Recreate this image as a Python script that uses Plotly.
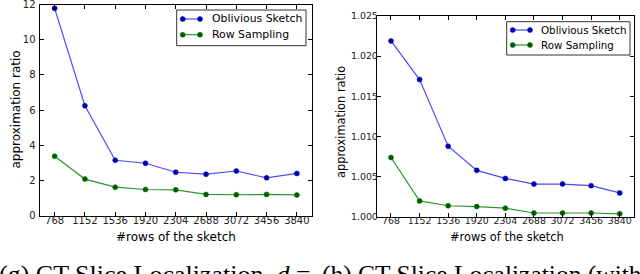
import plotly.graph_objects as go

rows = [768, 1152, 1536, 1920, 2304, 2688, 3072, 3456, 3840]
row_labels = [str(r) for r in rows]

# (g) left panel
g_oblivious = [11.78, 6.25, 3.15, 2.98, 2.47, 2.36, 2.54, 2.15, 2.40]
g_sampling = [3.38, 2.08, 1.62, 1.49, 1.47, 1.21, 1.19, 1.21, 1.18]

# (h) right panel
h_oblivious = [1.0219, 1.0171, 1.0088, 1.0058, 1.0048, 1.0041, 1.0041, 1.0039, 1.0030]
h_sampling = [1.0074, 1.0020, 1.0014, 1.0013, 1.0011, 1.0005, 1.0005, 1.0005, 1.0004]

left_ticks = [0, 2, 4, 6, 8, 10, 12]
right_ticks = [1.000, 1.005, 1.010, 1.015, 1.020, 1.025]
series_names = ["Oblivious Sketch", "Row Sampling"]

W, H = 640, 274
def px(x):
    return x / W
def py(y):
    return 1 - y / H

BLUE_LINE = "#4a4aff"
BLUE_MARK = "#0000b0"
GREEN_LINE = "#2e962e"
GREEN_MARK = "#006000"
LINE_COLORS = [BLUE_LINE, GREEN_LINE]
MARK_COLORS = [BLUE_MARK, GREEN_MARK]

fig = go.Figure()

def add_series(x, y, name, lc, mc, xa, ya):
    fig.add_trace(go.Scatter(
        x=x, y=y, name=name, mode="lines+markers",
        line=dict(color=lc, width=1.2),
        marker=dict(color=mc, size=5, line=dict(color=mc, width=0.5)),
        xaxis=xa, yaxis=ya, showlegend=False,
    ))

add_series(rows, g_oblivious, series_names[0], BLUE_LINE, BLUE_MARK, "x", "y")
add_series(rows, g_sampling, series_names[1], GREEN_LINE, GREEN_MARK, "x", "y")
add_series(rows, h_oblivious, series_names[0], BLUE_LINE, BLUE_MARK, "x2", "y2")
add_series(rows, h_sampling, series_names[1], GREEN_LINE, GREEN_MARK, "x2", "y2")

def axis_style(fs, standoff):
    return dict(
        showline=True, linecolor="black", linewidth=1, mirror="ticks",
        ticks="inside", ticklen=4, tickwidth=1, tickcolor="black",
        showgrid=False, zeroline=False, automargin=False,
        ticklabeloverflow="allow",
        tickfont=dict(family="DejaVu Sans", size=fs, color="#222222"),
        ticklabelstandoff=standoff,
    )

xr = [576, 4032]
fig.update_layout(
    width=W, height=H,
    margin=dict(l=0, r=0, t=0, b=0),
    paper_bgcolor="white", plot_bgcolor="white",
    xaxis=dict(domain=[px(39.5), px(312)], range=xr, tickvals=rows, ticktext=row_labels,
               anchor="y", **axis_style(10, -5)),
    yaxis=dict(domain=[py(215.7), py(4.5)], range=[0, 12], tickvals=left_ticks,
               anchor="x", **axis_style(10, 1)),
    xaxis2=dict(domain=[px(376.7), px(634)], range=xr, tickvals=rows, ticktext=row_labels,
                anchor="y2", **axis_style(9.4, -5)),
    yaxis2=dict(domain=[py(217), py(16)], range=[1.0, 1.025], tickvals=right_ticks,
                tickformat=".3f", anchor="x2", **axis_style(9.4, -4)),
    showlegend=False,
)

shapes = []
annotations = []

def manual_legend(box, text_y, sym_x0, sym_x1, text_x, fs):
    x0, y0, x1, y1 = box
    shapes.append(dict(type="rect", xref="paper", yref="paper",
                       x0=px(x0), x1=px(x1), y0=py(y1), y1=py(y0),
                       line=dict(color="#333333", width=1), fillcolor="white", layer="above"))
    for i, name in enumerate(series_names):
        ty = text_y[i]
        shapes.append(dict(type="line", xref="paper", yref="paper",
                           x0=px(sym_x0), x1=px(sym_x1), y0=py(ty), y1=py(ty),
                           line=dict(color=LINE_COLORS[i], width=1.2), layer="above"))
        for cx in (sym_x0, sym_x1):
            r = 2.5
            shapes.append(dict(type="circle", xref="paper", yref="paper",
                               x0=px(cx - r), x1=px(cx + r), y0=py(ty + r), y1=py(ty - r),
                               line=dict(color=MARK_COLORS[i], width=0.5),
                               fillcolor=MARK_COLORS[i], layer="above"))
        annotations.append(dict(text=name, x=px(text_x), y=py(ty), xanchor="left",
                                yanchor="middle", borderpad=0,
                                font=dict(family="DejaVu Sans", size=fs, color="black")))

manual_legend((176.7, 10, 306, 45.7), (19, 34.7), 182.7, 200, 211, 10.9)
manual_legend((506.7, 21.7, 630, 55), (30, 45), 512.7, 530, 539.5, 10.3)

annotations += [
    dict(text="approximation ratio", x=px(15.5), y=py(110), textangle=-90,
         xanchor="center", yanchor="middle",
         font=dict(family="DejaVu Sans", size=12, color="black")),
    dict(text="approximation ratio", x=px(341), y=py(122), textangle=-90,
         xanchor="center", yanchor="middle",
         font=dict(family="DejaVu Sans", size=11.4, color="black")),
    dict(text="#rows of the sketch", x=px(176), y=py(236.5), xanchor="center",
         yanchor="middle", font=dict(family="DejaVu Sans", size=12, color="black")),
    dict(text="#rows of the sketch", x=px(507), y=py(236.5), xanchor="center",
         yanchor="middle", font=dict(family="DejaVu Sans", size=11.4, color="black")),
    dict(text="(g) CT Slice Localization, <i>d</i> =", x=px(-2), y=py(259),
         xanchor="left", yanchor="top", borderpad=0,
         font=dict(family="Liberation Serif", size=26, color="black")),
    dict(text="(h) CT Slice Localization (with", x=px(321), y=py(259),
         xanchor="left", yanchor="top", borderpad=0,
         font=dict(family="Liberation Serif", size=25.5, color="black")),
]
for a in annotations:
    a.update(xref="paper", yref="paper", showarrow=False)
fig.update_layout(annotations=annotations, shapes=shapes)

fig.write_html("out.html", config={"displayModeBar": False},
               post_script="document.body.style.margin='0px';document.body.style.overflow='hidden';")
